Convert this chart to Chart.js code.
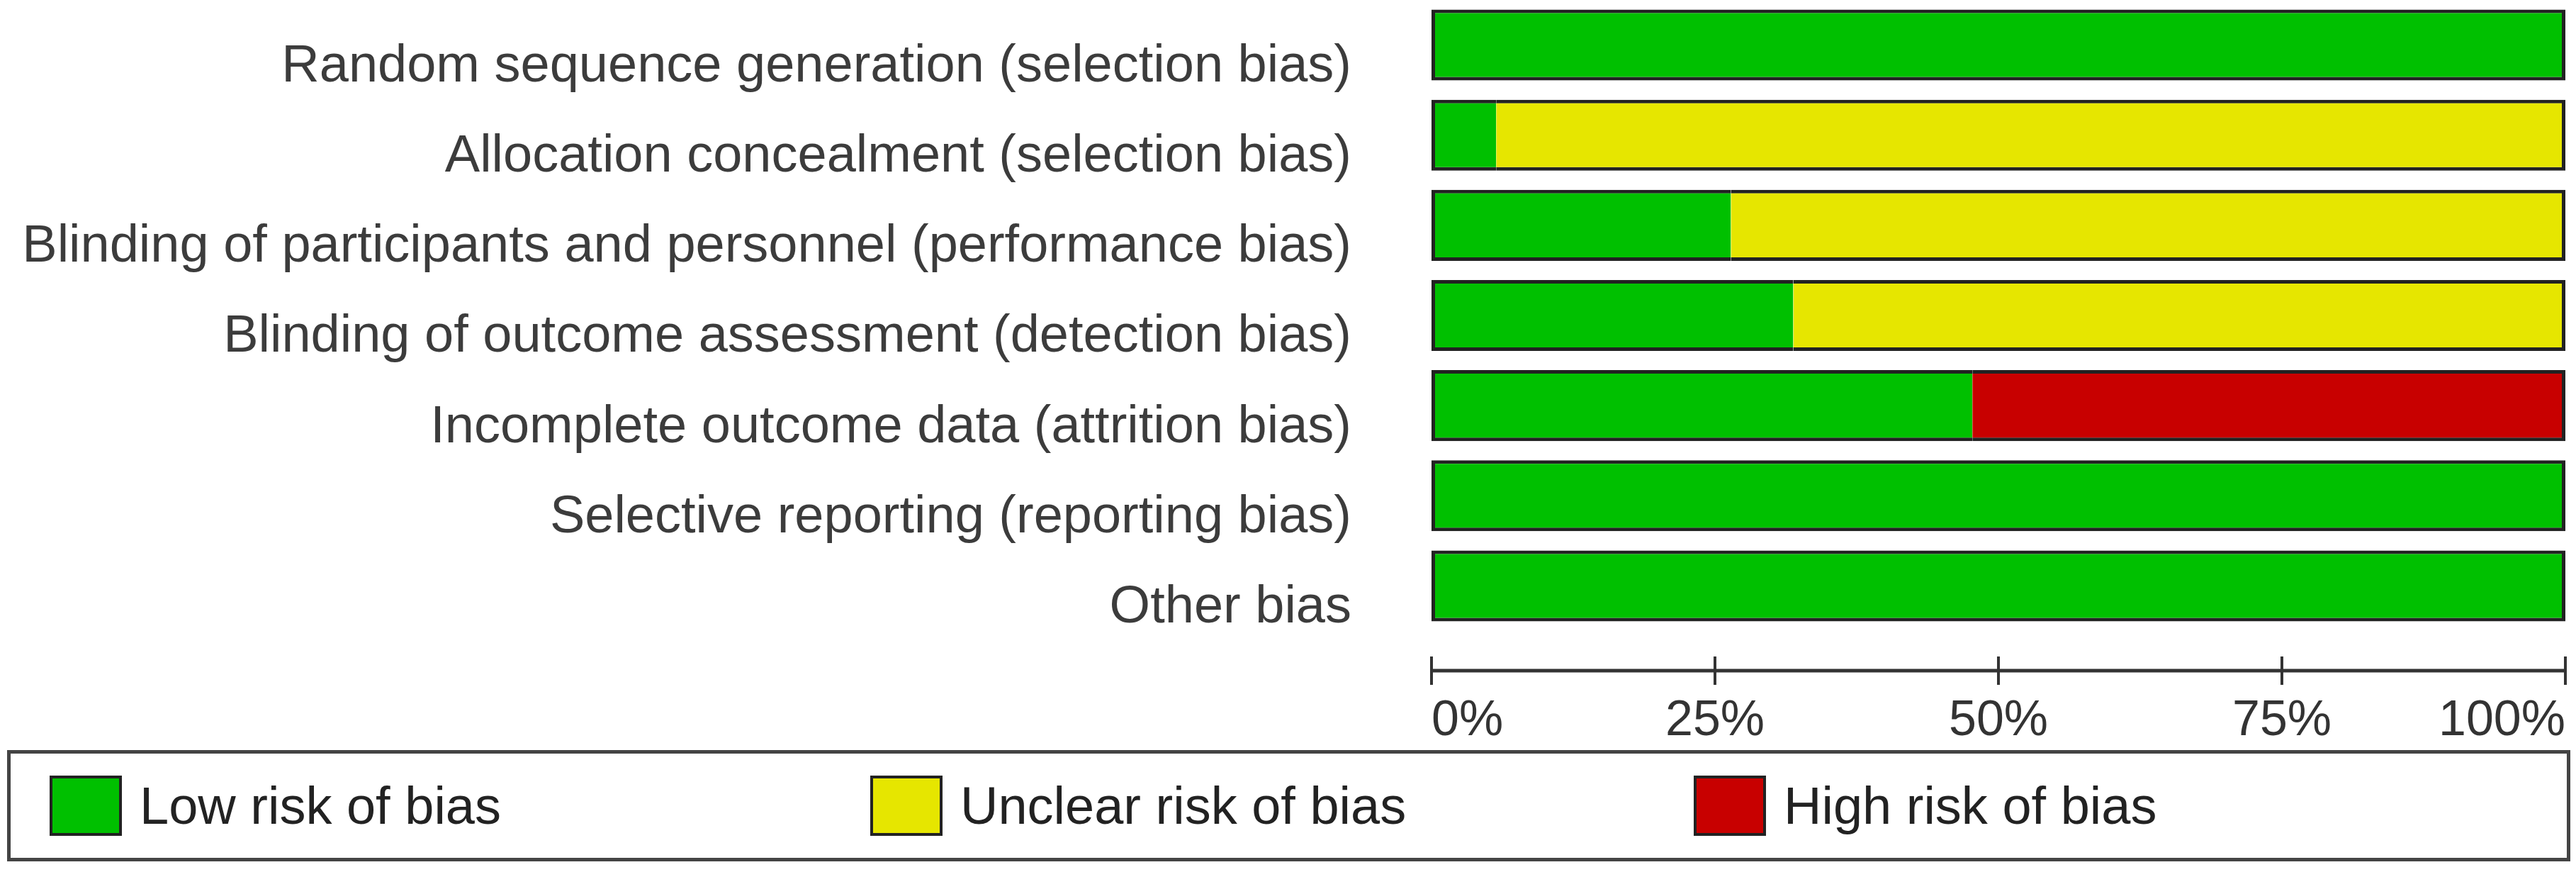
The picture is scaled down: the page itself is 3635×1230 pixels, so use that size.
<!DOCTYPE html>
<html>
<head>
<meta charset="utf-8">
<script src="https://cdn.jsdelivr.net/npm/chart.js@4.4.1/dist/chart.umd.min.js"></script>
<style>
  html, body { margin: 0; padding: 0; background: #ffffff; }
  #wrap { position: relative; width: 3635px; height: 1230px; overflow: hidden; }
  #legend { position: absolute; left: 10px; top: 1058px; width: 3617px; height: 157px;
            box-sizing: border-box; border: 5px solid #444; background: #fff; }
  .item { position: absolute; top: 0; height: 100%; display: flex; align-items: center;
          font-family: 'Liberation Sans', Arial, sans-serif; font-size: 74px; color: #222; white-space: nowrap; }
  .sw { width: 102px; height: 85px; box-sizing: border-box; border: 4px solid #222; margin-right: 25px; }
</style>
</head>
<body>
<div id="wrap">
  <canvas id="c" width="3635" height="1230"></canvas>
  <div id="legend"></div>
</div>
<script>
const categories = [
  'Random sequence generation (selection bias)',
  'Allocation concealment (selection bias)',
  'Blinding of participants and personnel (performance bias)',
  'Blinding of outcome assessment (detection bias)',
  'Incomplete outcome data (attrition bias)',
  'Selective reporting (reporting bias)',
  'Other bias'
];
const seriesNames = ['Low risk of bias', 'Unclear risk of bias', 'High risk of bias'];
const lowRisk     = [100, 5.7, 26.4, 31.9, 47.7, 100, 100];
const unclearRisk = [0, 94.3, 73.6, 68.1, 0, 0, 0];
const highRisk    = [0, 0, 0, 0, 52.3, 0, 0];
const tickValues  = [0, 25, 50, 75, 100];
const tickLabels  = ['0%', '25%', '50%', '75%', '100%'];
const seriesColors = ['#00C000', '#E6E600', '#C80000'];
const legendLefts = [55, 1213, 2375];

const FONT = "'Liberation Sans', Arial, sans-serif";

function borderW(c) {
  const i = c.dataIndex, d = c.datasetIndex;
  const ds = c.chart.data.datasets;
  const v = ds[d].data[i];
  if (!v) return 0;
  let first = true, last = true;
  for (let k = 0; k < d; k++) if (ds[k].data[i]) first = false;
  for (let k = d + 1; k < ds.length; k++) if (ds[k].data[i]) last = false;
  return { top: 5, bottom: 5, left: first ? 5 : 0, right: last ? 5 : 0 };
}

const axisPlugin = {
  id: 'axisLine',
  afterDraw(chart) {
    const { ctx, chartArea } = chart;
    const x = chart.scales.x;
    const y = chartArea.bottom + 56;
    ctx.save();
    ctx.strokeStyle = '#333';
    ctx.lineWidth = 5;
    ctx.beginPath();
    ctx.moveTo(x.getPixelForValue(tickValues[0]), y);
    ctx.lineTo(x.getPixelForValue(tickValues[tickValues.length - 1]), y);
    ctx.stroke();
    ctx.lineWidth = 4;
    tickValues.forEach(v => {
      const px = x.getPixelForValue(v);
      ctx.beginPath();
      ctx.moveTo(px, y - 20);
      ctx.lineTo(px, y + 20);
      ctx.stroke();
    });
    ctx.restore();
  }
};

const seriesData = [lowRisk, unclearRisk, highRisk];

const chart = new Chart(document.getElementById('c'), {
  type: 'bar',
  data: {
    labels: categories,
    datasets: seriesNames.map((name, i) => ({
      label: name,
      data: seriesData[i],
      backgroundColor: seriesColors[i],
      borderColor: '#222',
      borderSkipped: false,
      borderWidth: borderW,
      barPercentage: 0.787,
      categoryPercentage: 1
    }))
  },
  options: {
    indexAxis: 'y',
    responsive: false,
    animation: false,
    devicePixelRatio: 1,
    layout: { padding: { top: 0, right: 15, bottom: 180, left: 0 } },
    plugins: { legend: { display: false }, tooltip: { enabled: false } },
    scales: {
      x: {
        type: 'linear', stacked: true, min: 0, max: 100,
        afterFit: s => { s.height = 160; s.paddingLeft = 0; s.paddingRight = 0; },
        grid: { display: false, drawTicks: false },
        border: { display: false },
        ticks: {
          stepSize: 25, align: 'inner', padding: 86,
          font: { size: 70, family: FONT }, color: '#333',
          callback: v => tickLabels[tickValues.indexOf(v)]
        }
      },
      y: {
        stacked: true,
        afterFit: s => { s.width = 2020; s.paddingTop = 0; s.paddingBottom = 0; },
        grid: { display: false, drawTicks: false },
        border: { display: false },
        ticks: {
          padding: 113, labelOffset: 31, autoSkip: false,
          font: { size: 74, family: FONT }, color: '#3c3c3c'
        }
      }
    }
  },
  plugins: [axisPlugin]
});

// HTML legend generated from the chart's datasets
const legendEl = document.getElementById('legend');
chart.data.datasets.forEach((ds, i) => {
  const item = document.createElement('div');
  item.className = 'item';
  item.style.left = legendLefts[i] + 'px';
  const sw = document.createElement('div');
  sw.className = 'sw';
  sw.style.background = ds.backgroundColor;
  const tx = document.createElement('span');
  tx.textContent = ds.label;
  item.appendChild(sw);
  item.appendChild(tx);
  legendEl.appendChild(item);
});
</script>
</body>
</html>
